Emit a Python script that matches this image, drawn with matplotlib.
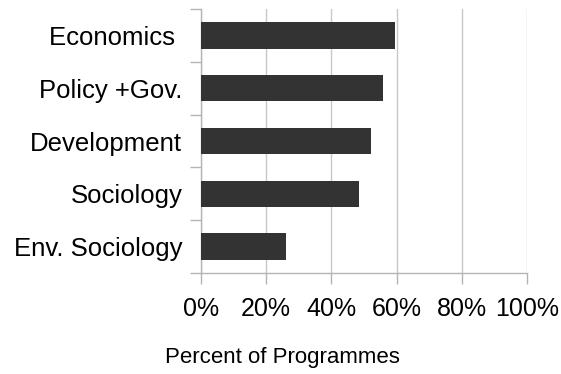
import numpy as np
import matplotlib
matplotlib.use("Agg")
import matplotlib.pyplot as plt
from matplotlib.ticker import PercentFormatter

plt.rcParams['font.family'] = ['Liberation Sans', 'DejaVu Sans']

# Share of programmes per discipline (top to bottom)
categories = ["Economics ", "Policy +Gov.", "Development", "Sociology", "Env. Sociology"]
percent = [59.4, 55.7, 52.0, 48.4, 26.0]
x_ticks = [0, 20, 40, 60, 80, 100]

fig = plt.figure(figsize=(5.61, 3.74), dpi=100)
ax = fig.add_axes([201 / 561, 1 - 273 / 374, 326 / 561, 264 / 374])

pos = np.arange(len(categories))[::-1]
ax.barh(pos, percent, height=0.5, color="#333333", zorder=3)

ax.set_xlim(0, 100)
ax.set_ylim(-0.5, len(categories) - 0.5)
ax.set_xticks(x_ticks)
ax.xaxis.set_major_formatter(PercentFormatter(decimals=0))
ax.grid(axis="x", color="#c8c8c8", linewidth=1.0, zorder=0)

# category labels sit between boundary ticks
ax.set_yticks(pos)
ax.set_yticklabels(categories)
ax.set_yticks(np.arange(-0.5, len(categories), 1.0), minor=True)
ax.tick_params(axis="y", which="major", length=0, pad=13.5, labelsize=18.5)
ax.tick_params(axis="y", which="minor", length=8, color="#b4b4b4", width=1.0)
ax.tick_params(axis="x", length=8, color="#b4b4b4", width=1.0, pad=9, labelsize=18)

for side in ["top", "right"]:
    ax.spines[side].set_visible(False)
for side in ["left", "bottom"]:
    ax.spines[side].set_color("#b4b4b4")
    ax.spines[side].set_linewidth(1.0)

fig.text(282 / 561, 1 - 363 / 374, "Percent of Programmes", ha="center", va="baseline", fontsize=16)

fig.savefig("out.png", dpi=100)
